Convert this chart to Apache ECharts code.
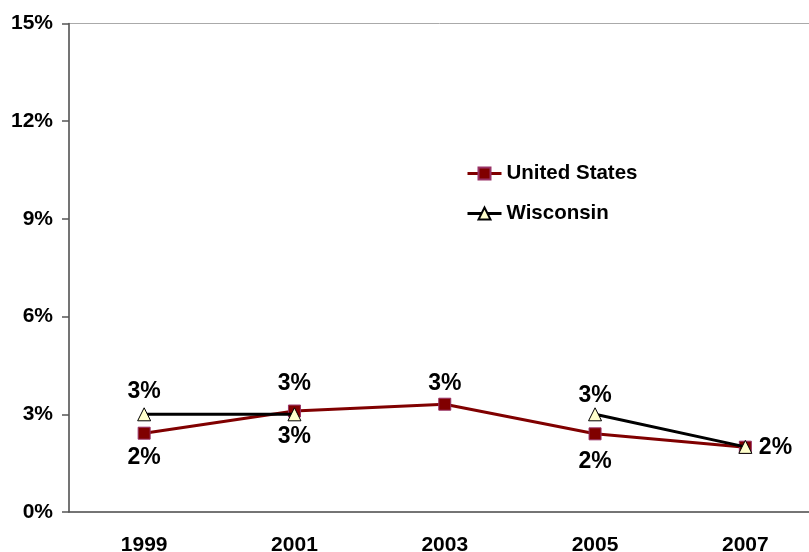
<!DOCTYPE html>
<html><head><meta charset="utf-8">
<script src="https://cdn.jsdelivr.net/npm/echarts@6/dist/echarts.min.js"></script>
<style>html,body{margin:0;padding:0;background:#fff}#c{width:809px;height:552px}</style>
</head><body><div id="c"></div>
<script>
var categories = ['1999', '2001', '2003', '2005', '2007'];
var usValues = [2.42, 3.1, 3.31, 2.4, 1.99];
var wiValues = [3.0, 3.0, null, 3.0, 2.0];
var usLabelPos = ['bottom', 'top', 'top', 'bottom', 'right'];
var usLabelDist = [6, 9, 3, 10, 7];
var wiLabelPos = ['top', 'bottom', null, 'top', null];
var wiLabelDist = [4, 4, 0, 0, 0];

function build(vals, pos, dist) {
  return vals.map(function (v, i) {
    var p = pos[i];
    return {
      value: v,
      label: p ? { show: true, position: p, distance: dist[i] } : { show: false }
    };
  });
}
var labelStyle = { fontFamily: 'Liberation Sans', fontWeight: 'bold', fontSize: 23, color: '#000',
  formatter: function (p) { return Math.round(p.value) + '%'; } };

var chart = echarts.init(document.getElementById('c'));
chart.setOption({
  animation: false,
  grid: { left: 69, width: 751.5, top: 23.5, bottom: 40, outerBoundsMode: 'none', containLabel: false,
    show: true, borderColor: '#aaa', borderWidth: 1 },
  legend: {
    orient: 'vertical', left: 461, top: 158, itemGap: 19, itemWidth: 34, itemHeight: 15,
    lineStyle: { width: 3 },
    textStyle: { fontFamily: 'Liberation Sans', fontWeight: 'bold', fontSize: 20.5, color: '#000' },
    data: ['United States', 'Wisconsin']
  },
  xAxis: {
    type: 'category', data: categories, boundaryGap: true,
    axisLine: { lineStyle: { color: '#555', width: 1.5 } },
    axisTick: { length: 7, lineStyle: { color: '#555', width: 1.5 } },
    axisLabel: { margin: 23, fontFamily: 'Liberation Sans', fontWeight: 'bold', fontSize: 21, color: '#000' }
  },
  yAxis: {
    type: 'value', min: 0, max: 15, interval: 3,
    axisLine: { show: true, lineStyle: { color: '#555', width: 1.5 } },
    axisTick: { show: true, length: 7, lineStyle: { color: '#555', width: 1.5 } },
    splitLine: { show: false },
    axisLabel: { margin: 16, formatter: '{value}%', fontFamily: 'Liberation Sans', fontWeight: 'bold', fontSize: 21, color: '#000' }
  },
  series: [
    {
      name: 'United States', type: 'line', data: build(usValues, usLabelPos, usLabelDist),
      symbol: 'rect', symbolSize: 12,
      lineStyle: { color: '#800000', width: 3 },
      itemStyle: { color: '#800000', borderColor: '#993366', borderWidth: 1 },
      label: labelStyle, z: 2
    },
    {
      name: 'Wisconsin', type: 'line', data: build(wiValues, wiLabelPos, wiLabelDist),
      symbol: 'triangle', symbolSize: 13, connectNulls: false,
      lineStyle: { color: '#000', width: 3 },
      itemStyle: { color: '#FFFFCC', borderColor: '#000', borderWidth: 1 },
      label: labelStyle, z: 3
    }
  ]
});
</script></body></html>
